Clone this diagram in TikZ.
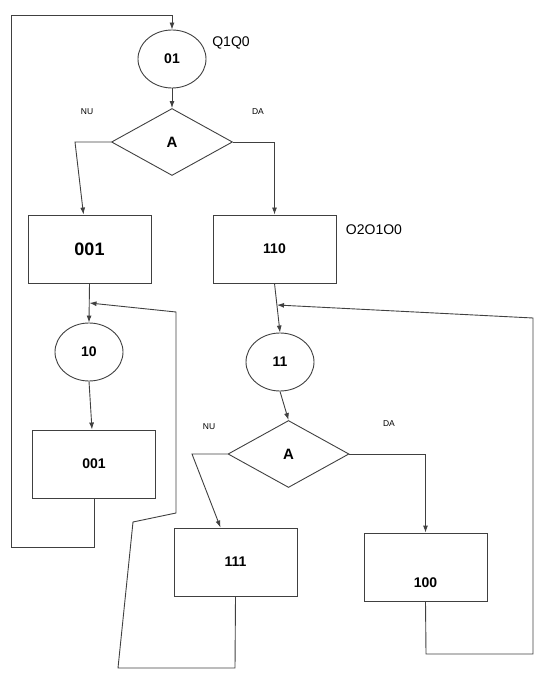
\documentclass[tikz,border=0pt]{standalone}
\usepackage{fontspec}
\setmainfont{Liberation Sans}
\usepackage{tikz}
\usetikzlibrary{shapes, calc, arrows.meta}

\begin{document}
\begin{tikzpicture}[x=1pt, y=-1pt, line width=0.9pt,
	state/.style={ellipse, draw=black!75, minimum width=68, minimum height=58, inner sep=0pt, font=\bfseries\fontsize{14}{16}\selectfont},
	cond/.style={diamond, draw=black!75, minimum width=121, minimum height=67, inner sep=0pt, font=\bfseries\fontsize{15}{17}\selectfont},
	outbox/.style={rectangle, draw=black!75, minimum width=123, minimum height=68, inner sep=0pt, font=\bfseries\fontsize{14}{16}\selectfont},
	tag/.style={font=\fontsize{8.5}{10}\selectfont},
	code/.style={font=\fontsize{14}{16}\selectfont},
	arr/.style={draw=black!75, -{Latex[length=7pt, width=5pt]}}]
			\useasboundingbox (0,0) rectangle (548,684);
			
			\node[state] (s01) at (172,59) {01};
			\node[code] (q) at (231,43) {Q1Q0};
			\node[cond] (a1) at (172,142) {A};
			\node[tag] (nu1) at (87,112) {NU};
			\node[tag] (da1) at (258,112) {DA};
			\node[outbox, font=\bfseries\fontsize{18}{20}\selectfont] (o001) at (89.5,249) {001};
			\node[outbox] (o110) at (274.5,249) {110};
			\node[code] (o) at (374,230) {O2O1O0};
			\node[state] (s10) at (89,352) {10};
			\node[outbox] (o001b) at (94,464) {001};
			\node[state] (s11) at (280,362) {11};
			\node[cond] (a2) at (288.5,454) {A};
			\node[tag] (nu2) at (209,427) {NU};
			\node[tag] (da2) at (389,424) {DA};
			\node[outbox] (o111) at (235.5,562) {111};
			\node[outbox] (o100) at (425.5,567) {};
			\node[font=\bfseries\fontsize{14}{16}\selectfont] (t100) at ($(o100)+(0,16)$) {100};
			
			\coordinate (j1) at (89.5,303);
			\coordinate (j2) at (277,305);
			
			\draw[arr] (s01)--(a1);
			\draw[arr] (a1.west)--(75,142)--($(o001.north)+(-6,0)$);
			\draw[arr] (a1.east)-|(o110.north);
			\draw[arr] (o001.south)--(s10.north);
			\draw[arr] (s10.south)--($(o001b.north)+(-2,0)$);
			\draw[arr] (o001b.south)--(94,547)--(11,547)--(11,15)--(172,15)--(s01.north);
			\draw[arr] (o111.south)--(235,668)--(118,668)--(133,522)--(176,513)--(176,312)--(j1);
			\draw[arr] (o110.south)--(s11.north);
			\draw[arr] (o100.south)--(426,654)--(533,654)--(533,318)--(j2);
			\draw[arr] (s11.south)--(a2.north);
			\draw[arr] (a2.west)--(192,454)--($(o111.north)+(-15,0)$);
			\draw[arr] (a2.east)-|(o100.north);
			\end{tikzpicture}
\end{document}
